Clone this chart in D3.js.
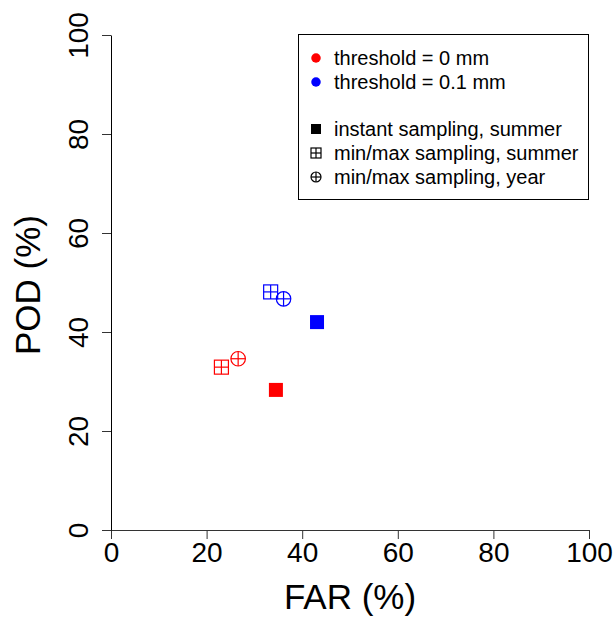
<!DOCTYPE html>
<html><head><meta charset="utf-8">
<script src="https://cdn.jsdelivr.net/npm/d3@7"></script>
<style>body{margin:0;background:#fff}svg{display:block}text{font-family:"Liberation Sans",Arial,sans-serif;fill:#000}</style>
</head><body><svg id="c" width="616" height="617"></svg>
<script>
// data
const labels = ["instant, 0 mm","min/max summer, 0 mm","min/max year, 0 mm","instant, 0.1 mm","min/max summer, 0.1 mm","min/max year, 0.1 mm"];
const farValues = [34.5, 23.1, 26.6, 43.1, 33.4, 36.1];
const podValues = [28.3, 32.9, 34.6, 42.0, 48.1, 46.7];
const thresholds = ["0", "0", "0", "0.1", "0.1", "0.1"];
const samplings = ["instant", "minmaxSummer", "minmaxYear", "instant", "minmaxSummer", "minmaxYear"];
const xTicks = [0, 20, 40, 60, 80, 100];
const yTicks = [0, 20, 40, 60, 80, 100];
const legendColorLabels = ["threshold = 0 mm", "threshold = 0.1 mm"];
const legendShapeLabels = ["instant sampling, summer", "min/max sampling, summer", "min/max sampling, year"];

const colorOf = {"0": "#ff0000", "0.1": "#0000ff"};
const svg = d3.select("#c");
const x = d3.scaleLinear().domain([0, 100]).range([111, 589]);
const y = d3.scaleLinear().domain([0, 100]).range([530, 35]);

// axes
const xAxis = svg.append("g").attr("transform", "translate(0,530)")
  .call(d3.axisBottom(x).tickValues(xTicks).tickSize(9).tickPadding(3).tickSizeOuter(0));
xAxis.select(".domain").attr("stroke", "#333");
xAxis.selectAll(".tick line").attr("stroke", "#333");
xAxis.selectAll(".tick text").attr("font-size", 28).attr("font-family", "Liberation Sans, Arial, sans-serif").attr("dy", "0.72em");

const yAxis = svg.append("g").attr("transform", "translate(111,0)")
  .call(d3.axisLeft(y).tickValues(yTicks).tickSize(9).tickSizeOuter(0));
yAxis.select(".domain").attr("stroke", "#000");
yAxis.selectAll(".tick line").attr("stroke", "#333");
yAxis.selectAll(".tick text")
  .attr("font-size", 28).attr("font-family", "Liberation Sans, Arial, sans-serif")
  .attr("x", null).attr("dy", null)
  .attr("text-anchor", "middle")
  .attr("transform", "translate(-23,0) rotate(-90)");

// titles
svg.append("text").attr("x", 350).attr("y", 609).attr("text-anchor", "middle")
  .attr("font-size", 35).text("FAR (%)");
svg.append("text").attr("transform", "translate(40,285) rotate(-90)").attr("text-anchor", "middle")
  .attr("font-size", 35).text("POD (%)");

// markers
function drawMarker(g, kind, cx, cy, s, col) {
  const h = s / 2;
  if (kind === "instant") {
    g.append("rect").attr("x", cx - h).attr("y", cy - h).attr("width", s).attr("height", s).attr("fill", col);
  } else if (kind === "minmaxSummer") {
    g.append("rect").attr("x", cx - h).attr("y", cy - h).attr("width", s).attr("height", s)
      .attr("fill", "none").attr("stroke", col).attr("stroke-width", 1.2);
    g.append("line").attr("x1", cx).attr("x2", cx).attr("y1", cy - h).attr("y2", cy + h).attr("stroke", col).attr("stroke-width", 1.2);
    g.append("line").attr("x1", cx - h).attr("x2", cx + h).attr("y1", cy).attr("y2", cy).attr("stroke", col).attr("stroke-width", 1.2);
  } else if (kind === "minmaxYear") {
    g.append("circle").attr("cx", cx).attr("cy", cy).attr("r", h).attr("fill", "none").attr("stroke", col).attr("stroke-width", 1.2);
    g.append("line").attr("x1", cx).attr("x2", cx).attr("y1", cy - h).attr("y2", cy + h).attr("stroke", col).attr("stroke-width", 1.2);
    g.append("line").attr("x1", cx - h).attr("x2", cx + h).attr("y1", cy).attr("y2", cy).attr("stroke", col).attr("stroke-width", 1.2);
  } else if (kind === "dot") {
    g.append("circle").attr("cx", cx).attr("cy", cy).attr("r", h).attr("fill", col);
  }
}

const pts = svg.append("g");
farValues.forEach((f, i) => {
  const s = samplings[i] === "minmaxYear" ? 14.5 : 14;
  drawMarker(pts, samplings[i], x(f), y(podValues[i]), s, colorOf[thresholds[i]]);
});

// legend
const lg = svg.append("g");
lg.append("rect").attr("x", 298.5).attr("y", 34.5).attr("width", 290).attr("height", 165)
  .attr("fill", "#fff").attr("stroke", "#000").attr("stroke-width", 1);
const legX = 316, textX = 334;
const colorRows = [58, 82];
legendColorLabels.forEach((t, i) => {
  drawMarker(lg, "dot", legX, colorRows[i], 9.5, colorOf[i === 0 ? "0" : "0.1"]);
  lg.append("text").attr("x", textX).attr("y", colorRows[i]).attr("dy", "0.35em").attr("font-size", 20).text(t);
});
const shapeRows = [129, 153, 177];
const shapeKinds = ["instant", "minmaxSummer", "minmaxYear"];
legendShapeLabels.forEach((t, i) => {
  drawMarker(lg, shapeKinds[i], legX, shapeRows[i], 10, "#000");
  lg.append("text").attr("x", textX).attr("y", shapeRows[i]).attr("dy", "0.35em").attr("font-size", 20).text(t);
});
</script></body></html>
